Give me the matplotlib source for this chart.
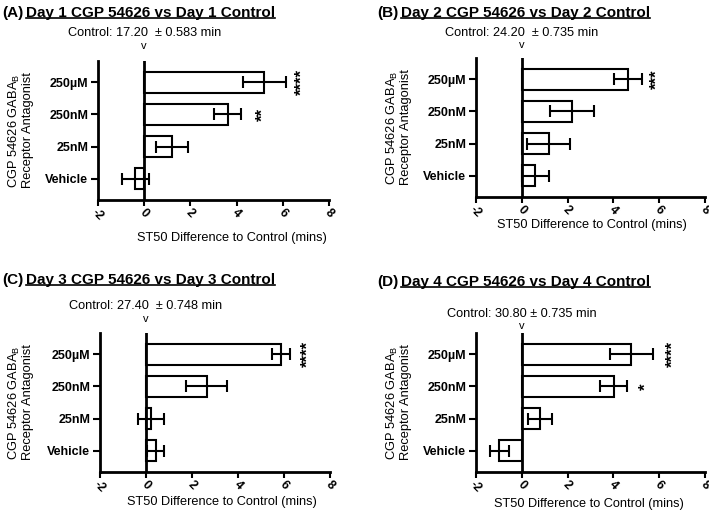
import numpy as np
import matplotlib.pyplot as plt

plt.rcParams["font.family"] = ["Liberation Sans", "DejaVu Sans"]

categories = ["Vehicle", "25nM", "250nM", "250µM"]

# differences to control (mins), bottom-to-top order: Vehicle, 25nM, 250nM, 250µM
day1_mean = [-0.38, 1.20, 3.62, 5.20]
day1_err = [0.60, 0.70, 0.59, 0.93]
day2_mean = [0.58, 1.17, 2.20, 4.62]
day2_err = [0.59, 0.93, 0.95, 0.61]
day3_mean = [0.42, 0.22, 2.64, 5.87]
day3_err = [0.38, 0.55, 0.90, 0.41]
day4_mean = [-0.99, 0.80, 4.01, 4.79]
day4_err = [0.42, 0.53, 0.59, 0.92]

control_text = ["Control: 17.20  ± 0.583 min", "Control: 24.20  ± 0.735 min",
                "Control: 27.40  ± 0.748 min", "Control: 30.80 ± 0.735 min"]
panel_letters = ["(A)", "(B)", "(C)", "(D)"]
panel_titles = ["Day 1 CGP 54626 vs Day 1 Control", "Day 2 CGP 54626 vs Day 2 Control",
                "Day 3 CGP 54626 vs Day 3 Control", "Day 4 CGP 54626 vs Day 4 Control"]
# significance stars: (category index, text, x position)
stars = [[(3, "****", 6.6), (2, "**", 4.9)],
         [(3, "***", 5.65)],
         [(3, "****", 6.8)],
         [(3, "****", 6.35), (2, "*", 5.2)]]

means = [day1_mean, day2_mean, day3_mean, day4_mean]
errs = [day1_err, day2_err, day3_err, day4_err]

W, H = 709, 514
fig = plt.figure(figsize=(W / 100, H / 100), dpi=100)

# axes boxes in pixels: left, top, right, bottom
boxes = [(98, 61, 329, 200), (476, 58, 705, 197), (100, 333, 330, 472), (476, 333, 705, 472)]
title_pos = [(2, 13), (377, 13), (2, 280), (377, 282)]
control_y = [33, 33, 306, 314]
v_y = [46, 45, 319, 326]
xlabel_pos = [(232, 238), (592, 225), (222, 502), (589, 504)]
ylabel_x = [20, 398, 20, 398]

renderer = fig.canvas.get_renderer()

for i in range(4):
    l, t, r, b = boxes[i]
    ax = fig.add_axes([l / W, 1 - b / H, (r - l) / W, (b - t) / H])
    y = np.arange(len(categories))
    ax.barh(y, means[i], height=0.65, color="white", edgecolor="black", linewidth=1.5, zorder=2)
    ax.errorbar(means[i], y, xerr=errs[i], fmt="none", ecolor="black", elinewidth=1.5,
                capsize=4, capthick=1.5, zorder=3)
    ax.axvline(0, color="black", linewidth=2, zorder=4)
    ax.set_xlim(-2, 8)
    ax.set_ylim(-0.65, 3.65)
    ax.set_yticks(y)
    ax.set_yticklabels(categories, fontsize=9, fontweight="bold")
    ax.set_xticks(np.arange(-2, 9, 2))
    ax.set_xticklabels([str(v) for v in range(-2, 9, 2)], fontsize=9, fontweight="bold",
                       rotation=-45, ha="center")
    for s in ["top", "right"]:
        ax.spines[s].set_visible(False)
    for s in ["left", "bottom"]:
        ax.spines[s].set_linewidth(2)
    ax.tick_params(axis="y", length=5, width=1.5, pad=2)
    ax.tick_params(axis="x", length=4, width=1.5, pad=1)
    # stars: nudge right since the rotated asterisk sits off-centre in its box
    for (ci, txt, xp) in stars[i]:
        ax.text(xp + 0.25, ci, txt, rotation=90, ha="center", va="center", fontsize=12,
                fontweight="bold")

    # control text and marker
    x0 = ax.transData.transform((0, 0))[0] / W
    fig.text(x0, 1 - control_y[i] / H, control_text[i], ha="center", va="center", fontsize=9.2)
    fig.text(x0, 1 - v_y[i] / H, "v", ha="center", va="center", fontsize=8)

    # axis labels
    fig.text(xlabel_pos[i][0] / W, 1 - xlabel_pos[i][1] / H, "ST50 Difference to Control (mins)",
             ha="center", va="center", fontsize=9.2)
    yc = 1 - (t + b) / 2 / H
    fig.text(ylabel_x[i] / W, yc, "CGP 54626 GABA$_\\mathregular{B}$\nReceptor Antagonist",
             rotation=90, ha="center", va="center", fontsize=9.3, linespacing=1.0)

    # title with underlined part
    tx, ty = title_pos[i]
    t1 = fig.text(tx / W, 1 - ty / H, panel_letters[i], ha="left", va="center",
                  fontsize=11, fontweight="bold")
    bb = t1.get_window_extent(renderer)
    t2 = fig.text((bb.x1 + 3) / W, 1 - ty / H, panel_titles[i], ha="left", va="center",
                  fontsize=11, fontweight="bold")
    bb2 = t2.get_window_extent(renderer)
    uy = (bb2.y0 + 2) / H
    fig.add_artist(plt.Line2D([bb2.x0 / W, bb2.x1 / W], [uy, uy], color="black",
                              linewidth=1.2, transform=fig.transFigure))

fig.savefig("out.png", dpi=100)
